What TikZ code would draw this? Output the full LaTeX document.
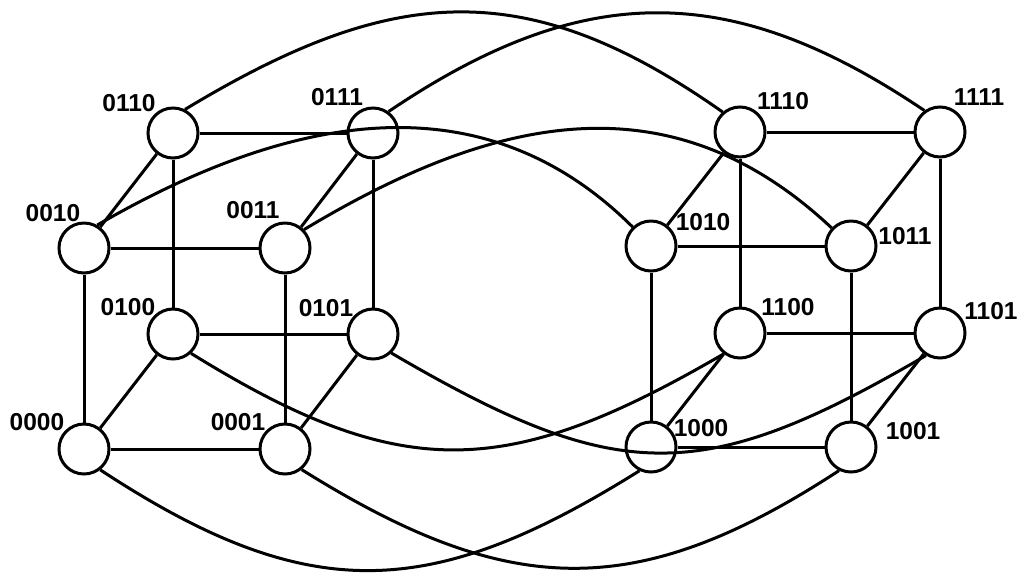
\documentclass[tikz,border=0pt]{standalone}
\usepackage{fontspec}
\setmainfont{Liberation Sans}
\begin{document}
\begin{tikzpicture}[x=1pt,y=-1pt,
  vert/.style={circle,draw,line width=3pt,minimum size=50pt,inner sep=0pt},
  lbl/.style={font=\fontsize{24.5}{24.5}\selectfont\bfseries,inner sep=0pt},
  edge/.style={line width=3pt}]
\useasboundingbox (0,0) rectangle (1024,582);
% left cube
\node[vert] (n0110) at (173,133) {};
\node[vert] (n0111) at (373,133) {};
\node[vert] (n0010) at (84,248) {};
\node[vert] (n0011) at (285,248) {};
\node[vert] (n0100) at (173,334) {};
\node[vert] (n0101) at (373,334) {};
\node[vert] (n0000) at (84,449) {};
\node[vert] (n0001) at (285,449) {};
% right cube
\node[vert] (n1110) at (740,132) {};
\node[vert] (n1111) at (940,132) {};
\node[vert] (n1010) at (651,246) {};
\node[vert] (n1011) at (851,246) {};
\node[vert] (n1100) at (740,333) {};
\node[vert] (n1101) at (940,333) {};
\node[vert] (n1000) at (651,447) {};
\node[vert] (n1001) at (851,447) {};
% labels
\node[lbl] (l0110) at (129,103) {0110};
\node[lbl] (l0111) at (337,97) {0111};
\node[lbl] (l0010) at (53,213) {0010};
\node[lbl] (l0011) at (253,210) {0011};
\node[lbl] (l0100) at (128,307) {0100};
\node[lbl] (l0101) at (326,308) {0101};
\node[lbl] (l0000) at (37,422) {0000};
\node[lbl] (l0001) at (238,422) {0001};
\node[lbl] (l1110) at (783,101) {1110};
\node[lbl] (l1111) at (979,97) {1111};
\node[lbl] (l1010) at (703,222) {1010};
\node[lbl] (l1011) at (905,236) {1011};
\node[lbl] (l1100) at (788,307) {1100};
\node[lbl] (l1101) at (991,311) {1101};
\node[lbl] (l1000) at (701,428) {1000};
\node[lbl] (l1001) at (913,431) {1001};
% left cube edges
\draw[edge] (n0110) -- (n0111);
\draw[edge] (n0110) -- (n0010);
\draw[edge] (n0110) -- (n0100);
\draw[edge] (n0111) -- (n0011);
\draw[edge] (n0111) -- (n0101);
\draw[edge] (n0010) -- (n0011);
\draw[edge] (n0010) -- (n0000);
\draw[edge] (n0011) -- (n0001);
\draw[edge] (n0100) -- (n0101);
\draw[edge] (n0100) -- (n0000);
\draw[edge] (n0101) -- (n0001);
\draw[edge] (n0000) -- (n0001);
% right cube edges
\draw[edge] (n1110) -- (n1111);
\draw[edge] (n1110) -- (n1010);
\draw[edge] (n1110) -- (n1100);
\draw[edge] (n1111) -- (n1011);
\draw[edge] (n1111) -- (n1101);
\draw[edge] (n1010) -- (n1011);
\draw[edge] (n1010) -- (n1000);
\draw[edge] (n1011) -- (n1001);
\draw[edge] (n1100) -- (n1101);
\draw[edge] (n1100) -- (n1000);
\draw[edge] (n1101) -- (n1001);
\draw[edge] (n1000) -- (n1001);
% connecting arcs
\draw[edge] (n0110.63) .. controls (391,-15) and (525,-27) .. (n1110.131);
\draw[edge] (n0111.54) .. controls (583,-20) and (731,-20) .. (n1111.126);
\draw[edge] (n0010.60) .. controls (284,117) and (479,74) .. (n1010.134);
\draw[edge] (n0011.44) .. controls (496,114) and (671,77) .. (n1011.137);
\draw[edge] (n0100.-47) .. controls (402,484) and (507,480) .. (n1100.232);
\draw[edge] (n0101.-46) .. controls (617,485) and (701,487) .. (n1101.238);
\draw[edge] (n0000.-52) .. controls (309,607) and (431,601) .. (n1000.244);
\draw[edge] (n0001.-51) .. controls (507,598) and (635,604) .. (n1001.243);
\end{tikzpicture}
\end{document}
